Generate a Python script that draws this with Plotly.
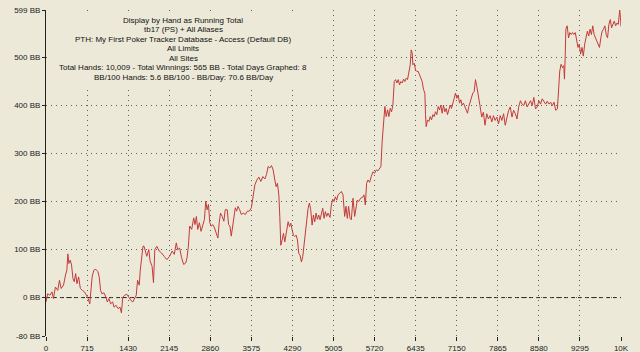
import plotly.graph_objects as go

hands = [0, 29, 70, 105, 129, 164, 205, 234, 264, 305, 340, 363, 381, 398, 422, 445, 469, 492, 516, 539, 568, 598, 633, 668, 703, 733, 762, 779, 803, 832, 867, 903, 926, 950, 973, 1008, 1043, 1067, 1096, 1125, 1160, 1184, 1219, 1254, 1289, 1313, 1336, 1371, 1406, 1441, 1477, 1512, 1541, 1571, 1594, 1623, 1641, 1664, 1688,
         1707, 1754, 1789, 1812, 1847, 1871, 1894, 1929, 1970, 2011, 2057, 2104, 2151, 2197, 2233, 2268, 2291, 2326, 2361, 2396, 2431, 2455, 2478, 2501, 2536, 2571, 2594, 2618, 2641, 2670, 2699, 2734, 2758, 2781, 2804, 2828, 2851, 2875, 2904, 2933, 2962, 2992, 3015, 3038, 3067, 3096, 3120, 3155, 3178, 3202, 3225, 3248, 3272, 3295, 3318, 3342, 3371, 3400, 3435, 3470, 3505, 3540, 3575, 3598,
         3636, 3671, 3705, 3740, 3775, 3809, 3838, 3867, 3896, 3925, 3954, 3983, 4006, 4029, 4053, 4070, 4087, 4110, 4134, 4157, 4186, 4215, 4238, 4261, 4284, 4307, 4331, 4354, 4377, 4400, 4423, 4446, 4469, 4493, 4516, 4539, 4562, 4585, 4608, 4632, 4655, 4678, 4701, 4724, 4747, 4770, 4794, 4817, 4840, 4863, 4886, 4909, 4944, 4967, 4991, 5011, 5037, 5060, 5083, 5112, 5141, 5170, 5199, 5222, 5245, 5268, 5292, 5315, 5344, 5373, 5396, 5419, 5442, 5477, 5512, 5535, 5558, 5581, 5604,
         5633, 5662, 5691, 5720, 5749, 5778, 5807, 5830, 5853, 5876, 5899, 5922, 5946, 5969, 5992, 6015, 6038, 6062, 6085, 6108, 6131, 6154, 6177, 6201, 6224, 6247, 6270, 6293, 6317, 6340, 6357, 6375, 6386, 6410, 6433, 6456, 6479, 6502, 6525, 6548, 6572, 6595, 6606, 6618, 6641, 6664, 6688, 6711, 6734, 6757, 6780, 6803, 6827, 6850, 6873, 6896, 6919, 6943, 6966, 6989, 7012, 7035, 7059, 7082, 7105, 7128, 7151, 7175, 7198, 7221, 7244, 7267, 7291, 7314, 7337, 7360, 7383, 7406, 7430, 7453,
         7476, 7499, 7525, 7554, 7584, 7613, 7642, 7672, 7701, 7730, 7760, 7789, 7818, 7847, 7877, 7906, 7935, 7965, 7994, 8023, 8053, 8082, 8111, 8140, 8170, 8199, 8228, 8258, 8287, 8316, 8345, 8375, 8404, 8433, 8463, 8492, 8521, 8550, 8580, 8609, 8638, 8668, 8697, 8726, 8755, 8785, 8814, 8843, 8873, 8902, 8920, 8943, 8966, 8990, 9013, 9025, 9037, 9049, 9072, 9096, 9119, 9143, 9166, 9189, 9213, 9236, 9260, 9283, 9306, 9330, 9353, 9377, 9400, 9424, 9447, 9470, 9494, 9517, 9541, 9564, 9588, 9611, 9634, 9658, 9681, 9705, 9728, 9751, 9775, 9798, 9822, 9845, 9869, 9892, 9916, 9939, 9962, 9986, 10000, 10009]

winnings_bb = [-9, 8, 5, 12, -2, 22, 15, 36, 19, 26, 47, 57, 91, 71, 78, 68, 40, 33, 50, 29, 43, 19, 15, 12, 5, -2, -13, 5, 43, 57, 59, 54, 43, 15, 8, 10, 1, -9, -2, -13, -9, -20, -16, -23, -20, -32, 1, 5, 7, 1, -6, -9, -2, 5, 36, 26, 57, 85, 107,
               107, 86, 100, 76, 65, 31, 100, 107, 97, 93, 86, 79, 86, 97, 90, 114, 100, 103, 83, 69, 72, 83, 107, 149, 142, 166, 152, 169, 142, 156, 138, 156, 163, 201, 183, 194, 156, 149, 152, 145, 135, 124, 156, 176, 169, 159, 183, 183, 152, 149, 128, 145, 169, 187, 180, 190, 183, 173, 176, 173, 180, 180, 187, 204,
               235, 245, 251, 242, 252, 247, 256, 273, 270, 275, 266, 245, 231, 238, 214, 169, 109, 120, 134, 116, 141, 158, 148, 155, 141, 130, 127, 130, 120, 92, 88, 74, 85, 113, 141, 162, 186, 197, 183, 151, 172, 158, 176, 163, 172, 162, 176, 186, 165, 179, 169, 176, 167, 193, 205, 200, 210, 203, 214, 217, 221, 214, 169, 190, 165, 190, 165, 162, 207, 169, 190, 203, 200, 207, 209, 214, 193, 238, 245,
               240, 252, 262, 259, 266, 264, 269, 273, 328, 363, 398, 377, 391, 377, 394, 387, 401, 450, 454, 447, 454, 443, 450, 447, 455, 450, 457, 454, 468, 485, 516, 509, 485, 488, 474, 471, 471, 464, 457, 450, 433, 426, 381, 356, 370, 367, 377, 370, 381, 377, 387, 381, 398, 391, 401, 384, 401, 387, 394, 381, 391, 401, 394, 408, 415, 426, 415, 422, 405, 412, 401, 405, 398, 391, 384, 398, 408, 415, 426, 429,
               454, 440, 424, 400, 376, 386, 359, 383, 372, 379, 366, 379, 369, 376, 362, 379, 369, 383, 359, 376, 390, 397, 376, 390, 383, 372, 397, 410, 403, 400, 410, 397, 403, 410, 400, 417, 393, 397, 410, 403, 414, 407, 403, 409, 403, 407, 400, 407, 390, 393, 431, 472, 486, 479, 483, 455, 500, 559, 566, 541, 552, 548, 552, 548, 552, 531, 521, 528, 507, 521, 503, 528, 541, 555, 545, 559, 548, 566, 548, 541, 538, 528, 521, 541, 555, 559, 566, 548, 541, 569, 579, 562, 569, 576, 566, 572, 569, 599, 583, 565]

x_tick_vals = [0, 715, 1430, 2145, 2860, 3575, 4290, 5005, 5720, 6435, 7150, 7865, 8580, 9295, 10009]
x_tick_text = ["0", "715", "1430", "2145", "2860", "3575", "4290", "5005", "5720", "6435", "7150", "7865", "8580", "9295", "10K"]
y_tick_vals = [-80, 0, 100, 200, 300, 400, 500, 599]
y_tick_text = ["-80 BB", "0 BB", "100 BB", "200 BB", "300 BB", "400 BB", "500 BB", "599 BB"]

title_lines = [
    "Display by Hand as Running Total",
    "tb17 (PS) + All Aliases",
    "PTH: My First Poker Tracker Database - Access (Default DB)",
    "All Limits",
    "All Sites",
    "Total Hands: 10,009 - Total Winnings: 565 BB - Total Days Graphed: 8",
    "BB/100 Hands: 5.6 BB/100 - BB/Day: 70.6 BB/Day",
]

BG = "#ECE9D8"
W, H = 640, 352
ML, MR, MT, MB = 46, 19, 10, 16
PW = W - ML - MR
PH = H - MT - MB

def px_x(p):
    return (p - ML) / PW

def px_y(p):
    return (H - MB - p) / PH

fig = go.Figure()
fig.add_trace(go.Scatter(x=hands, y=winnings_bb, mode="lines",
                         line=dict(color="#C43A3A", width=1), hoverinfo="skip"))

grid_col = "#606060"
fig.update_layout(
    width=W, height=H,
    margin=dict(l=ML, r=MR, t=MT, b=MB, pad=0, autoexpand=False),
    paper_bgcolor=BG, plot_bgcolor=BG,
    showlegend=False,
    font=dict(family="Liberation Sans, Arial, sans-serif", size=8, color="#222222"),
    xaxis=dict(range=[0, 10009], tickmode="array", tickvals=x_tick_vals, ticktext=x_tick_text,
               showgrid=True, gridcolor=grid_col, griddash="1px,4px", gridwidth=1,
               zeroline=False, showline=False, ticks="outside", ticklen=4, tickcolor="#222222",
               tickfont=dict(size=8, color="#222222"), automargin=False),
    yaxis=dict(range=[-80, 599], tickmode="array", tickvals=y_tick_vals, ticktext=y_tick_text,
               showgrid=True, gridcolor=grid_col, griddash="1px,4px", gridwidth=1,
               zeroline=False, showline=True, linecolor="#222222", linewidth=1,
               ticks="outside", ticklen=3, tickcolor="#222222",
               tickfont=dict(size=8, color="#222222"), automargin=False),
)

# zero reference line (dashed)
fig.add_shape(type="line", xref="paper", x0=0, x1=1, yref="y", y0=0, y1=0,
              line=dict(color="#222222", width=1, dash="4px,3px"), layer="below")

# opaque box behind the info text
fig.add_shape(type="rect", xref="paper", yref="paper",
              x0=px_x(47.5), x1=px_x(320), y0=px_y(88), y1=px_y(14),
              fillcolor=BG, line=dict(width=0), layer="above")

line_y = [20, 29.5, 39, 48.5, 58, 67.5, 77]
for txt, yy in zip(title_lines, line_y):
    fig.add_annotation(text=txt, xref="paper", yref="paper", x=px_x(183), y=px_y(yy),
                       xanchor="center", yanchor="middle", showarrow=False,
                       font=dict(size=8, color="#111111"))

fig.write_html("out.html")
